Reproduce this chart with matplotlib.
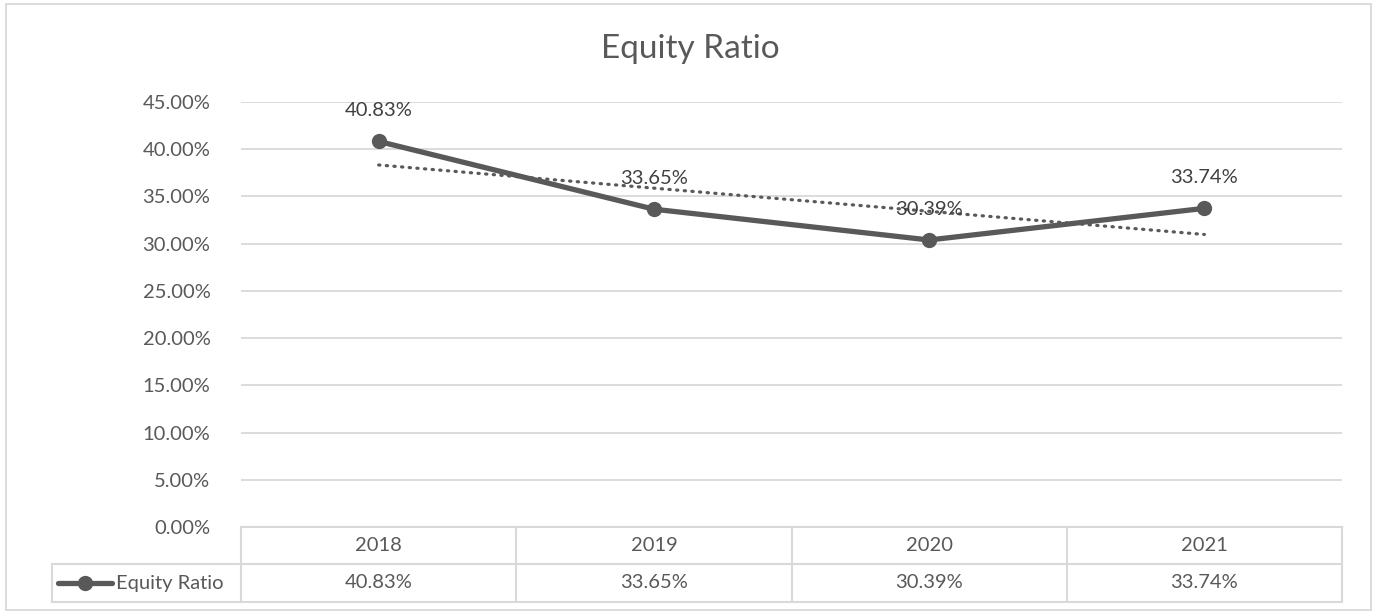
import numpy as np
import matplotlib
matplotlib.use("Agg")
import matplotlib.pyplot as plt
from matplotlib.patches import Rectangle
from matplotlib.lines import Line2D

# ==========================================================
# DATOS
# ==========================================================

years = ["2018", "2019", "2020", "2021"]
equity_ratio = [40.83, 33.65, 30.39, 33.74]
series_name = "Equity Ratio"

LINE = "#595959"
TEXT = "#595959"
LABEL = "#404040"
GRID = "#D9D9D9"
FS = 14.5

plt.rcParams["font.family"] = ["Lato", "DejaVu Sans"]

W, H = 1381, 614
fig = plt.figure(figsize=(W / 100, H / 100), dpi=100)


def fx(px):
    return px / W


def fy(py):
    return 1 - py / H


# ==========================================================
# AREA DEL GRAFICO
# ==========================================================

left, right, top, bottom = 241, 1342, 102, 527
ax = fig.add_axes([fx(left), fy(bottom), fx(right) - fx(left), fy(top) - fy(bottom)])

x = np.arange(1, len(years) + 1)
vals = np.array(equity_ratio) / 100

ax.plot(x, vals, color=LINE, lw=3.8, marker="o", markersize=10,
        solid_capstyle="round", zorder=3)

# linea de tendencia lineal
coef = np.polyfit(x, vals, 1)
ax.plot(x, np.polyval(coef, x), color=LINE, lw=2.3, linestyle=(0, (0.4, 2.0)),
        dash_capstyle="round", zorder=2)

for xi, v in zip(x, vals):
    ax.annotate(f"{v * 100:.2f}%", (xi, v), xytext=(0, 22), textcoords="offset points",
                ha="center", va="center", fontsize=FS, color=LABEL, zorder=4)

ax.set_xlim(0.5, len(years) + 0.5)
ax.set_ylim(0, 0.45)
ticks = np.arange(0, 0.451, 0.05)
ax.set_yticks(ticks)
ax.set_yticklabels([f"{t * 100:.2f}%" for t in ticks])
ax.tick_params(axis="y", length=0, pad=22, labelsize=FS, labelcolor=TEXT)
ax.set_xticks([])
ax.grid(axis="y", color=GRID, lw=1.3)
ax.set_axisbelow(True)
for s in ax.spines.values():
    s.set_visible(False)

fig.text(fx(690), fy(49), "Equity Ratio", ha="center", va="center",
         fontsize=24, color=TEXT)

# ==========================================================
# TABLA DE DATOS
# ==========================================================

row1, row2, row3 = 527, 564, 602
tleft = 52
cols = [left + (right - left) * i / len(years) for i in range(len(years) + 1)]

tbl = dict(color=GRID, lw=1.5, transform=fig.transFigure)
fig.add_artist(Line2D([fx(left), fx(right)], [fy(row1), fy(row1)], **tbl))
fig.add_artist(Line2D([fx(tleft), fx(right)], [fy(row2), fy(row2)], **tbl))
fig.add_artist(Line2D([fx(tleft), fx(right)], [fy(row3), fy(row3)], **tbl))
fig.add_artist(Line2D([fx(tleft), fx(tleft)], [fy(row2), fy(row3)], **tbl))
for c in cols:
    fig.add_artist(Line2D([fx(c), fx(c)], [fy(row1), fy(row3)], **tbl))

for i, (yr, v) in enumerate(zip(years, equity_ratio)):
    cx = (cols[i] + cols[i + 1]) / 2
    fig.text(fx(cx), fy((row1 + row2) / 2), yr, ha="center", va="center",
             fontsize=FS, color=TEXT)
    fig.text(fx(cx), fy((row2 + row3) / 2), f"{v:.2f}%", ha="center", va="center",
             fontsize=FS, color=TEXT)

# clave de la leyenda
ym = fy((row2 + row3) / 2)
fig.add_artist(Line2D([fx(58), fx(112)], [ym, ym], color=LINE, lw=3.8,
                      solid_capstyle="round", transform=fig.transFigure))
fig.add_artist(Line2D([fx(85)], [ym], color=LINE, marker="o", markersize=10,
                      transform=fig.transFigure))
fig.text(fx(116), ym, series_name, ha="left", va="center", fontsize=FS, color=TEXT)

# borde exterior
fig.add_artist(Rectangle((fx(6), fy(610)), fx(1371) - fx(6), fy(4) - fy(610),
                         transform=fig.transFigure, fill=False, ec=GRID, lw=1.3))

fig.savefig("out.png", dpi=100, facecolor="white")
